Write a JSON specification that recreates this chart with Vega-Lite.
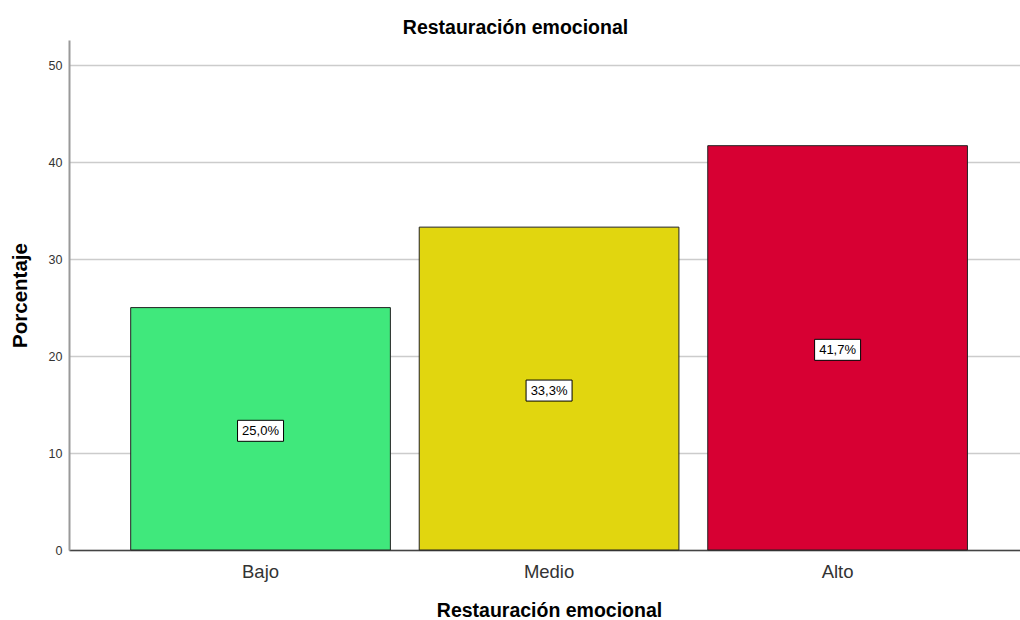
{
  "$schema": "https://vega.github.io/schema/vega-lite/v6.json",
  "autosize": "none",
  "width": 951,
  "height": 510,
  "padding": {"left": 69, "top": 40, "right": 0, "bottom": 70},
  "background": "white",
  "config": {
    "font": "Liberation Sans",
    "view": {"stroke": null}
  },
  "title": {
    "text": "Restauración emocional",
    "fontSize": 19.5,
    "fontWeight": "bold",
    "color": "#000000",
    "anchor": "middle",
    "baseline": "alphabetic",
    "offset": 7,
    "dx": -29,
    "dy": 20
  },
  "data": {
    "values": [
      {"nivel": "Bajo", "porcentaje": 25.0, "label": "25,0%"},
      {"nivel": "Medio", "porcentaje": 33.3, "label": "33,3%"},
      {"nivel": "Alto", "porcentaje": 41.7, "label": "41,7%"}
    ]
  },
  "encoding": {
    "x": {
      "field": "nivel",
      "type": "nominal",
      "sort": ["Bajo", "Medio", "Alto"],
      "scale": {"paddingInner": 0.1, "paddingOuter": 0.198, "align": 0.54},
      "axis": {
        "title": "Restauración emocional",
        "titleFontSize": 19.5,
        "titleFontWeight": "bold",
        "titleColor": "#000000",
        "titleBaseline": "middle",
        "titleY": 60,
        "titleX": 480,
        "labelAngle": 0,
        "labelFontSize": 18.5,
        "labelColor": "#333333",
        "labelPadding": 12,
        "ticks": false,
        "domainColor": "#444444",
        "domainWidth": 1.5
      }
    }
  },
  "layer": [
    {
      "mark": {"type": "bar", "stroke": "#222222", "strokeWidth": 1},
      "encoding": {
        "y": {
          "field": "porcentaje",
          "type": "quantitative",
          "scale": {"domain": [0, 52.6], "nice": false},
          "axis": {
            "title": "Porcentaje",
            "titleFontSize": 20.5,
            "titleFontWeight": "bold",
            "titleColor": "#000000",
            "titleBaseline": "middle",
            "titleX": -49,
            "titleY": 255,
            "titleAngle": -90,
            "values": [0, 10, 20, 30, 40, 50],
            "labelFontSize": 12.5,
            "labelColor": "#333333",
            "labelPadding": 7,
            "ticks": false,
            "grid": true,
            "gridColor": "#cccccc",
            "gridWidth": 1.5,
            "domainColor": "#999999",
            "domainWidth": 2
          }
        },
        "color": {
          "field": "nivel",
          "type": "nominal",
          "scale": {"domain": ["Bajo", "Medio", "Alto"], "range": ["#40E87C", "#E1D60F", "#D70033"]},
          "legend": null
        }
      }
    },
    {
      "layer": [
        {
          "mark": {"type": "rect", "width": 46, "height": 21, "fill": "white", "stroke": "#000000", "strokeWidth": 1, "yOffset": 2},
          "encoding": {
            "y": {"field": "porcentaje", "type": "quantitative", "scale": {"domain": [0, 105.2], "nice": false}, "axis": null}
          }
        },
        {
          "mark": {"type": "text", "fontSize": 13, "color": "#000000", "baseline": "middle", "align": "center", "yOffset": 2},
          "encoding": {
            "y": {"field": "porcentaje", "type": "quantitative", "scale": {"domain": [0, 105.2], "nice": false}, "axis": null},
            "text": {"field": "label"}
          }
        }
      ]
    }
  ],
  "resolve": {"scale": {"y": "independent"}}
}
